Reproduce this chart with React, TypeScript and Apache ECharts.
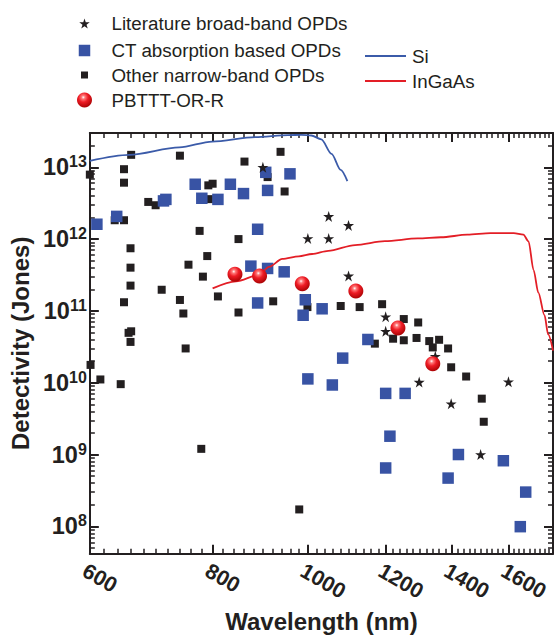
import React, { useEffect, useRef } from 'react';
import * as echarts from 'echarts';

// ---------- data (wavelength nm, detectivity Jones) ----------
const X_TICKS = [600, 800, 1000, 1200, 1400, 1600];
const X_MIN = 600;
const X_MAX = 1776;
const Y_EXPONENTS = [8, 9, 10, 11, 12, 13];
const Y_MIN = 4.17e7;
const Y_MAX = 3.0e13;

const LITERATURE = [
  [900, 1.0e13], [1050, 2.07e12], [1100, 1.55e12], [1000, 1.02e12], [1050, 1.02e12],
  [1100, 3.07e11], [1200, 8.3e10], [1200, 5.2e10], [1348, 2.34e10], [1298, 1.02e10],
  [1600, 1.03e10], [1399, 5.1e9], [1499, 1.0e9],
];

const CT_ABSORPTION = [
  [610, 1.61e12], [639, 2.07e12], [713, 3.4e12], [717, 3.57e12], [768, 5.8e12],
  [780, 3.7e12], [810, 3.57e12], [834, 5.8e12], [860, 4.3e12], [906, 8.5e12],
  [910, 4.76e12], [959, 8.1e12], [889, 1.37e12], [875, 4.2e11], [910, 3.9e11],
  [946, 3.5e11], [889, 1.29e11], [994, 1.43e11], [989, 8.7e10], [1034, 1.07e11],
  [1151, 4.0e10], [1085, 2.2e10], [1000, 1.13e10], [1059, 9.3e9], [1200, 7.1e9],
  [1256, 7.1e9], [1212, 1.8e9], [1200, 6.5e8], [1423, 1.0e9], [1389, 4.7e8],
  [1581, 8.2e8], [1666, 3.0e8], [1645, 9.9e7],
];

const OTHER_NARROW = [
  [600, 7.9e12], [661, 1.49e13], [650, 9.4e12], [650, 6.1e12], [741, 1.45e13],
  [862, 1.2e13], [910, 7.3e12], [938, 1.64e13], [947, 4.6e12], [792, 5.6e12],
  [800, 5.9e12], [793, 3.6e12], [688, 3.29e12], [700, 2.96e12], [636, 1.83e12],
  [650, 1.83e12], [776, 1.3e12], [850, 1.0e12], [660, 7.45e11], [790, 5.8e11],
  [756, 4.4e11], [660, 4.0e11], [782, 3.0e11], [660, 2.25e11], [710, 1.97e11],
  [810, 1.59e11], [650, 1.32e11], [741, 1.42e11], [922, 1.36e11], [747, 9.2e10],
  [850, 9.5e10], [657, 4.95e10], [661, 5.2e10], [660, 3.7e10], [751, 3.0e10],
  [601, 1.77e10], [615, 1.11e10], [645, 9.55e9], [779, 1.2e9], [999, 1.13e11],
  [1080, 1.17e11], [1129, 1.13e11], [1190, 1.24e11], [1252, 7.7e10], [1295, 6.9e10],
  [1170, 3.5e10], [1221, 4.1e10], [1252, 3.9e10], [1290, 4.2e10], [1329, 3.8e10],
  [1360, 3.96e10], [1340, 3.1e10], [1389, 3.0e10], [1399, 1.64e10], [1449, 1.22e10],
  [1503, 6.0e9], [1510, 2.86e9], [980, 1.72e8],
];

const PBTTT = [
  [843, 3.24e11], [893, 3.07e11], [987, 2.38e11], [1119, 1.89e11], [1235, 5.8e10], [1340, 1.83e10],
];

const SI_CURVE = [
  [600, 1.23e13], [658, 1.49e13], [740, 1.89e13], [799, 2.28e13], [884, 2.63e13],
  [955, 2.8e13], [985, 2.83e13], [1008, 2.77e13], [1032, 2.45e13], [1057, 1.54e13],
  [1080, 9.2e12], [1097, 6.4e12],
];

const INGAAS_CURVE = [
  [800, 2.06e11], [845, 2.58e11], [892, 3.17e11], [913, 4.1e11], [942, 5.3e11],
  [979, 5.75e11], [1010, 6.2e11], [1049, 6.86e11], [1117, 8.26e11], [1198, 9.34e11],
  [1294, 1.02e12], [1366, 1.06e12], [1453, 1.15e12], [1534, 1.21e12], [1620, 1.21e12],
  [1657, 1.15e12], [1677, 9.3e11], [1697, 3.7e11], [1716, 1.8e11], [1741, 8.7e10],
  [1756, 4.7e10], [1776, 2.8e10],
];

// ---------- helpers ----------
const lg = Math.log10;
const toLog = (arr: number[][]) => arr.map(([x, y]) => [lg(x), lg(y)]);

const FONT = "'Liberation Sans', Arial, Helvetica, sans-serif";
const INK = '#231f20';
const BLUE = '#3853a4';
const SI_BLUE = '#3b5ba9';
const RED = '#e31e26';
const SQUARE = 'path://M0,0L10,0L10,10L0,10Z';
const STAR = 'path://M50,0L61.2,34.5L97.6,34.5L68.2,55.9L79.4,90.5L50,69.1L20.6,90.5L31.8,55.9L2.4,34.5L38.8,34.5Z';

const X_MAJOR_LOG = X_TICKS.map(lg);
const X_MINOR_LOG: number[] = [];
for (let v = X_MIN + 20; v < X_MAX; v += 20) {
  if (!X_TICKS.includes(v)) X_MINOR_LOG.push(lg(v));
}
const Y_MAJOR_LOG = Y_EXPONENTS.slice();
const Y_MINOR_LOG: number[] = [];
for (let n = 7; n <= 13; n++) {
  for (let k = 2; k <= 9; k++) {
    const v = lg(k) + n;
    if (v > lg(Y_MIN) && v < lg(Y_MAX) - 0.005) Y_MINOR_LOG.push(v);
  }
}

const sphere = new echarts.graphic.RadialGradient(0.42, 0.32, 0.72, [
  { offset: 0, color: '#ffffff' },
  { offset: 0.16, color: '#ff7a7a' },
  { offset: 0.45, color: '#ee1c25' },
  { offset: 1, color: '#a30000' },
]);

function makeXAxis(position: 'bottom' | 'top', major: boolean, withLine: boolean, withLabels: boolean) {
  const ticks = major ? X_MAJOR_LOG : X_MINOR_LOG;
  return {
    type: 'value',
    position,
    min: lg(X_MIN),
    max: lg(X_MAX),
    axisLine: { show: withLine, lineStyle: { color: INK, width: 2 } },
    axisTick: {
      show: true,
      inside: true,
      length: major ? 9 : 5,
      customValues: ticks,
      lineStyle: { color: INK, width: major ? 2 : 1.5 },
    },
    axisLabel: withLabels
      ? {
          show: true,
          customValues: X_MAJOR_LOG,
          formatter: (v: number) => String(Math.round(Math.pow(10, v))),
          rotate: -30,
          align: 'left',
          verticalAlign: 'top',
          margin: 6,
          fontSize: 21.5,
          fontWeight: 'bold',
          fontFamily: FONT,
          color: INK,
        }
      : { show: false },
    splitLine: { show: false },
    ...(withLabels
      ? {
          name: 'Wavelength (nm)',
          nameLocation: 'middle',
          nameGap: 42,
          nameTextStyle: { fontSize: 24, fontWeight: 'bold', fontFamily: FONT, color: INK },
        }
      : {}),
  };
}

function makeYAxis(position: 'left' | 'right', major: boolean, withLine: boolean, withLabels: boolean) {
  const ticks = major ? Y_MAJOR_LOG : Y_MINOR_LOG;
  return {
    type: 'value',
    position,
    min: lg(Y_MIN),
    max: lg(Y_MAX),
    axisLine: { show: withLine, lineStyle: { color: INK, width: 2 } },
    axisTick: {
      show: true,
      inside: true,
      length: major ? 9 : 5,
      customValues: ticks,
      lineStyle: { color: INK, width: major ? 2 : 1.5 },
    },
    axisLabel: withLabels
      ? {
          show: true,
          customValues: Y_MAJOR_LOG,
          formatter: (v: number) => `{b|10}{s|${Math.round(v)}}`,
          margin: 3,
          rich: {
            b: { fontSize: 23.5, fontWeight: 'bold', fontFamily: FONT, color: INK, lineHeight: 27, verticalAlign: 'middle' },
            s: { fontSize: 16, fontWeight: 'bold', fontFamily: FONT, color: INK, verticalAlign: 'top', lineHeight: 16 },
          },
        }
      : { show: false },
    splitLine: { show: false },
    ...(withLabels
      ? {
          name: 'Detectivity (Jones)',
          nameLocation: 'middle',
          nameGap: 51,
          nameTextStyle: { fontSize: 24, fontWeight: 'bold', fontFamily: FONT, color: INK },
        }
      : {}),
  };
}

const LEGEND_LINE_H = 20;

// icon centre x = 84.5, text starts at x = 111.5
function markerLegend(name: string, size: number, centerY: number) {
  return {
    padding: 0,
    selectedMode: false,
    data: [name],
    left: 84.5 - size / 2,
    top: centerY - Math.max(size, LEGEND_LINE_H) / 2,
    itemWidth: size,
    itemHeight: size,
    textStyle: {
      fontSize: 18.8,
      lineHeight: LEGEND_LINE_H,
      fontFamily: FONT,
      color: INK,
      padding: [0, 0, 0, 111.5 - (84.5 + size / 2 + 5)],
    },
  };
}
function lineLegend(name: string, centerY: number) {
  return {
    padding: 0,
    selectedMode: false,
    data: [{ name, icon: 'rect' }],
    left: 365,
    top: centerY - LEGEND_LINE_H / 2,
    itemWidth: 41,
    itemHeight: 2,
    textStyle: { fontSize: 18.8, lineHeight: LEGEND_LINE_H, fontFamily: FONT, color: INK, padding: [0, 0, 0, 1] },
  };
}

export default function App() {
  const ref = useRef<HTMLDivElement>(null);

  useEffect(() => {
    if (!ref.current) return;
    const chart = echarts.init(ref.current, null, { renderer: 'svg' });
    chart.setOption({
      animation: false,
      backgroundColor: '#ffffff',
      grid: { left: 86, right: 2, top: 133, bottom: 69, containLabel: false },
      xAxis: [
        makeXAxis('bottom', true, true, true),
        makeXAxis('bottom', false, false, false),
        makeXAxis('top', true, true, false),
        makeXAxis('top', false, false, false),
      ],
      yAxis: [
        makeYAxis('left', true, true, true),
        makeYAxis('left', false, false, false),
        makeYAxis('right', true, true, false),
        makeYAxis('right', false, false, false),
      ],
      legend: [
        markerLegend('Literature broad-band OPDs', 10.5, 23.5),
        markerLegend('CT absorption based OPDs', 11.5, 50.5),
        markerLegend('Other narrow-band OPDs', 7, 75),
        markerLegend('PBTTT-OR-R', 15, 100),
        lineLegend('Si', 56),
        lineLegend('InGaAs', 81),
      ],
      series: [
        {
          name: 'Other narrow-band OPDs',
          type: 'scatter',
          data: toLog(OTHER_NARROW),
          symbol: SQUARE,
          symbolSize: 8,
          itemStyle: { color: INK, opacity: 1 },
          z: 2,
        },
        {
          name: 'CT absorption based OPDs',
          type: 'scatter',
          data: toLog(CT_ABSORPTION),
          symbol: SQUARE,
          symbolSize: 11.5,
          itemStyle: { color: BLUE, opacity: 1 },
          z: 3,
        },
        {
          name: 'Literature broad-band OPDs',
          type: 'scatter',
          data: toLog(LITERATURE),
          symbol: STAR,
          symbolSize: 11,
          itemStyle: { color: INK, opacity: 1 },
          z: 4,
        },
        {
          name: 'Si',
          type: 'line',
          data: toLog(SI_CURVE),
          symbol: 'none',
          smooth: 0.3,
          smoothMonotone: 'x',
          lineStyle: { color: SI_BLUE, width: 1.8 },
          itemStyle: { color: SI_BLUE },
          z: 5,
        },
        {
          name: 'InGaAs',
          type: 'line',
          data: toLog(INGAAS_CURVE),
          symbol: 'none',
          smooth: 0.3,
          smoothMonotone: 'x',
          lineStyle: { color: RED, width: 1.8 },
          itemStyle: { color: RED },
          z: 5,
        },
        {
          name: 'PBTTT-OR-R',
          type: 'scatter',
          data: toLog(PBTTT),
          symbol: 'circle',
          symbolSize: 15,
          itemStyle: { color: sphere, opacity: 1 },
          z: 6,
        },
      ],
    });
    return () => chart.dispose();
  }, []);

  return (
    <div
      ref={ref}
      style={{ position: 'fixed', left: 0, top: 0, width: 555, height: 638, background: '#fff' }}
    />
  );
}
